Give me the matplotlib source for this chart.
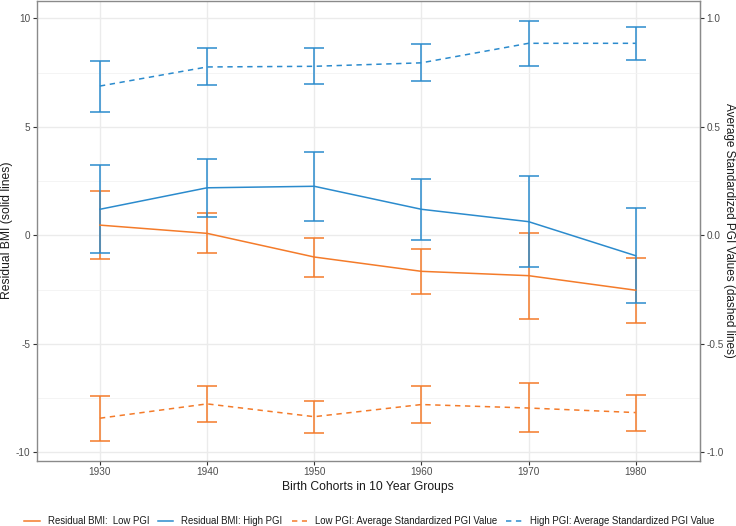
import numpy as np
import matplotlib
matplotlib.use("Agg")
import matplotlib.pyplot as plt
from matplotlib.lines import Line2D

plt.rcParams['font.family'] = ['Liberation Sans', 'DejaVu Sans']
plt.rcParams['axes.unicode_minus'] = False

cohorts = [1930, 1940, 1950, 1960, 1970, 1980]

# residual BMI (left axis)
bmi_low = [0.47, 0.09, -1.00, -1.66, -1.86, -2.53]
bmi_low_lo = [-1.09, -0.80, -1.91, -2.69, -3.84, -4.06]
bmi_low_hi = [2.06, 1.01, -0.12, -0.63, 0.09, -1.03]

bmi_high = [1.20, 2.19, 2.26, 1.20, 0.63, -0.94]
bmi_high_lo = [-0.83, 0.84, 0.67, -0.20, -1.46, -3.10]
bmi_high_hi = [3.23, 3.53, 3.85, 2.61, 2.73, 1.27]

# average standardized PGI (right axis)
pgi_low = [-0.843, -0.777, -0.836, -0.780, -0.796, -0.817]
pgi_low_lo = [-0.946, -0.859, -0.910, -0.865, -0.908, -0.902]
pgi_low_hi = [-0.739, -0.696, -0.762, -0.696, -0.682, -0.734]

pgi_high = [0.688, 0.776, 0.779, 0.795, 0.885, 0.885]
pgi_high_lo = [0.570, 0.691, 0.696, 0.712, 0.780, 0.808]
pgi_high_hi = [0.805, 0.862, 0.862, 0.880, 0.988, 0.960]

scale = 10  # secondary axis = primary / 10

orange = "#F47B2A"
blue = "#2B8BCD"

fig = plt.figure(figsize=(7.36, 5.26), dpi=100)
ax = fig.add_axes([0.0499, 0.1245, 0.9011, 0.8736])

x = np.array(cohorts)


def draw(mean, lo, hi, color, ls, k=1):
    m = np.array(mean) * k
    l = np.array(lo) * k
    h = np.array(hi) * k
    ax.errorbar(x, m, yerr=[m - l, h - m], fmt='none', ecolor=color,
                elinewidth=1.1, capsize=7.5, capthick=1.1, zorder=3)
    ax.plot(x, m, color=color, lw=1.1, linestyle=ls, zorder=4)


dash = (0, (3.5, 3))
draw(bmi_low, bmi_low_lo, bmi_low_hi, orange, '-')
draw(bmi_high, bmi_high_lo, bmi_high_hi, blue, '-')
draw(pgi_low, pgi_low_lo, pgi_low_hi, orange, dash, scale)
draw(pgi_high, pgi_high_lo, pgi_high_hi, blue, dash, scale)

ax.set_xlim(1924.1, 1986.0)
ax.set_ylim(-10.38, 10.80)
ax.set_xticks(cohorts)
ax.set_yticks([-10, -5, 0, 5, 10])
ax.set_yticks([-7.5, -2.5, 2.5, 7.5], minor=True)
ax.grid(True, which='major', color='#EBEBEB', lw=1.0, zorder=0)
ax.grid(True, which='minor', axis='y', color='#F3F3F3', lw=0.6, zorder=0)
ax.set_axisbelow(True)

for s in ax.spines.values():
    s.set_color('#8A8A8A')
    s.set_linewidth(1.0)

ax.tick_params(axis='both', which='major', length=2.7, width=0.8, color='#333333',
               labelsize=7.2, labelcolor='#4D4D4D', pad=2)
ax.tick_params(axis='y', which='minor', length=0)
ax.set_xlabel("Birth Cohorts in 10 Year Groups", fontsize=8.7, color='#1A1A1A', labelpad=3)

ax2 = ax.secondary_yaxis('right', functions=(lambda v: v / scale, lambda v: v * scale))
ax2.set_yticks([-1.0, -0.5, 0.0, 0.5, 1.0])
ax2.set_yticklabels(["-1.0", "-0.5", "0.0", "0.5", "1.0"])
ax2.tick_params(length=2.7, width=0.8, color='#333333', labelsize=7.2,
                labelcolor='#4D4D4D', pad=2)
ax2.spines['right'].set_color('#8A8A8A')

# axis titles placed in figure coordinates
ymid = 1 - 230.7 / 526
fig.text(7.5 / 736, ymid, "Residual BMI (solid lines)", fontsize=8.7, color='#1A1A1A',
         rotation=90, ha='center', va='center')
fig.text(729 / 736, ymid, "Average Standardized PGI Values (dashed lines)", fontsize=8.5,
         color='#1A1A1A', rotation=-90, ha='center', va='center')

handles = [
    Line2D([], [], color=orange, lw=1.1),
    Line2D([], [], color=blue, lw=1.1),
    Line2D([], [], color=orange, lw=1.1, linestyle=dash),
    Line2D([], [], color=blue, lw=1.1, linestyle=dash),
]
labels = [
    "Residual BMI:  Low PGI",
    "Residual BMI: High PGI",
    "Low PGI: Average Standardized PGI Value",
    "High PGI: Average Standardized PGI Value",
]
fig.legend(handles, labels, loc='center', bbox_to_anchor=(369 / 736, 1 - 521 / 526), ncol=4,
           frameon=False, fontsize=6.95, handlelength=1.6, handletextpad=0.83,
           columnspacing=0.93, labelcolor='#1A1A1A', borderpad=0)

fig.savefig("out.png", dpi=100)
